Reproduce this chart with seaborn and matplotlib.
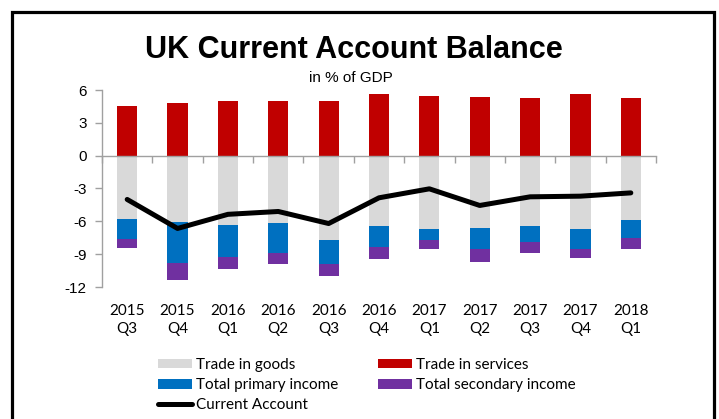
import numpy as np
import pandas as pd
import matplotlib
matplotlib.use("Agg")
import matplotlib.pyplot as plt
import seaborn as sns
from matplotlib.patches import Rectangle
from matplotlib.ticker import FixedLocator

# Quarterly UK current account components, % of GDP
years = ["2015", "2015", "2016", "2016", "2016", "2016", "2017", "2017", "2017", "2017", "2018"]
quarters = ["Q3", "Q4", "Q1", "Q2", "Q3", "Q4", "Q1", "Q2", "Q3", "Q4", "Q1"]
trade_services = [4.5, 4.8, 4.97, 4.97, 4.97, 5.6, 5.48, 5.33, 5.24, 5.6, 5.24]
trade_goods = [-5.8, -6.1, -6.33, -6.12, -7.67, -6.42, -6.7, -6.64, -6.45, -6.73, -5.9]
primary_income = [-1.8, -3.75, -2.94, -2.73, -2.21, -1.97, -0.97, -1.85, -1.45, -1.82, -1.64]
secondary_income = [-0.85, -1.5, -1.09, -1.09, -1.12, -1.09, -0.88, -1.27, -1.03, -0.79, -0.97]
current_account = [-4.0, -6.65, -5.36, -5.1, -6.2, -3.85, -3.03, -4.55, -3.76, -3.7, -3.4]

C_GOODS = "#D9D9D9"
C_SERVICES = "#C00000"
C_PRIMARY = "#0070C0"
C_SECONDARY = "#7030A0"
AXIS_GREY = "#A0A0A0"

periods = [f"{y}\n{q}" for y, q in zip(years, quarters)]
df = pd.DataFrame({
    "period": periods,
    "services": trade_services,
    "goods": trade_goods,
    "goods_primary": np.add(trade_goods, primary_income),
    "all_negative": np.add(np.add(trade_goods, primary_income), secondary_income),
    "current": current_account,
})

sns.set_theme(style="white")
plt.rcParams["font.family"] = ["Liberation Sans", "DejaVu Sans"]
plt.rcParams["axes.unicode_minus"] = False
plt.rcParams["text.color"] = "black"
plt.rcParams["xtick.color"] = "black"
plt.rcParams["ytick.color"] = "black"

fig = plt.figure(figsize=(7.19, 4.19), dpi=100)
ax = fig.add_axes([102 / 719, 132 / 419, 554 / 719, 197 / 419])

bar_kw = dict(data=df, x="period", width=0.4, saturation=1, linewidth=0,
              errorbar=None, ax=ax, order=periods)
# negative components are layered deepest-first so each segment stacks below the previous
sns.barplot(y="all_negative", color=C_SECONDARY, label="Total secondary income", **bar_kw)
sns.barplot(y="goods_primary", color=C_PRIMARY, label="Total primary income", **bar_kw)
sns.barplot(y="goods", color=C_GOODS, label="Trade in goods", **bar_kw)
sns.barplot(y="services", color=C_SERVICES, label="Trade in services", **bar_kw)
sns.lineplot(x=np.arange(len(periods)), y=df["current"], color="black", linewidth=3.6,
             solid_capstyle="round", solid_joinstyle="round", label="Current Account",
             ax=ax, zorder=5, sort=False)

if ax.get_legend() is not None:
    ax.get_legend().remove()

n = len(periods)
ax.set_xlim(-0.5, n - 0.5)
ax.set_ylim(-12, 6)
ax.set_yticks(np.arange(-12, 7, 3))
ax.set_xlabel("")
ax.set_ylabel("")

for side in ("top", "right"):
    ax.spines[side].set_visible(False)
ax.spines["left"].set_color(AXIS_GREY)
ax.spines["left"].set_linewidth(1.0)
ax.spines["bottom"].set_color(AXIS_GREY)
ax.spines["bottom"].set_linewidth(1.0)
ax.spines["bottom"].set_position(("data", 0))
ax.spines["bottom"].set_zorder(6)

ax.tick_params(axis="y", which="major", left=True, direction="out", length=5,
               width=1.0, color=AXIS_GREY, pad=6, labelsize=11, labelcolor="black")
ax.tick_params(axis="x", which="major", length=0, labelbottom=False)
ax.xaxis.set_minor_locator(FixedLocator(np.arange(-0.5, n, 1.0)))
ax.tick_params(axis="x", which="minor", bottom=True, direction="out", length=5,
               width=1.0, color=AXIS_GREY)

# category labels sit below the plot area while the axis line stays at zero
sec = ax.secondary_xaxis("bottom")
sec.set_xticks(np.arange(n))
sec.set_xticklabels(periods, family=["Lato", "DejaVu Sans"], fontsize=11,
                    linespacing=1.35, color="black")
sec.tick_params(axis="x", length=0, pad=12.5)
sec.spines["bottom"].set_visible(False)

fig.text(0.4917, 1 - 58 / 419, "UK Current Account Balance", ha="center",
         va="baseline", fontsize=22, fontweight="bold", color="black")
fig.text(0.488, 1 - 82 / 419, "in % of GDP", ha="center", va="baseline",
         fontsize=11, color="black")

hl = dict(zip(*ax.get_legend_handles_labels()[::-1]))
order = ["Trade in goods", "Total primary income", "Current Account",
         "Trade in services", "Total secondary income"]
fig.legend([hl[k] for k in order], order, loc="upper left",
           bbox_to_anchor=(158 / 719, 1 - 358 / 419), ncol=2, frameon=False,
           prop={"family": ["Lato", "DejaVu Sans"], "size": 11},
           labelcolor="black",
           handlelength=2.2, handleheight=0.6, handletextpad=0.3,
           labelspacing=0.4, columnspacing=2.6, borderpad=0, borderaxespad=0)

# chart frame
fig.patches.append(Rectangle((12 / 719, -0.1), 702 / 719, 1.1 - 12 / 419,
                             transform=fig.transFigure, fill=False,
                             edgecolor="black", linewidth=2.3))

fig.savefig("out.png", dpi=100)
